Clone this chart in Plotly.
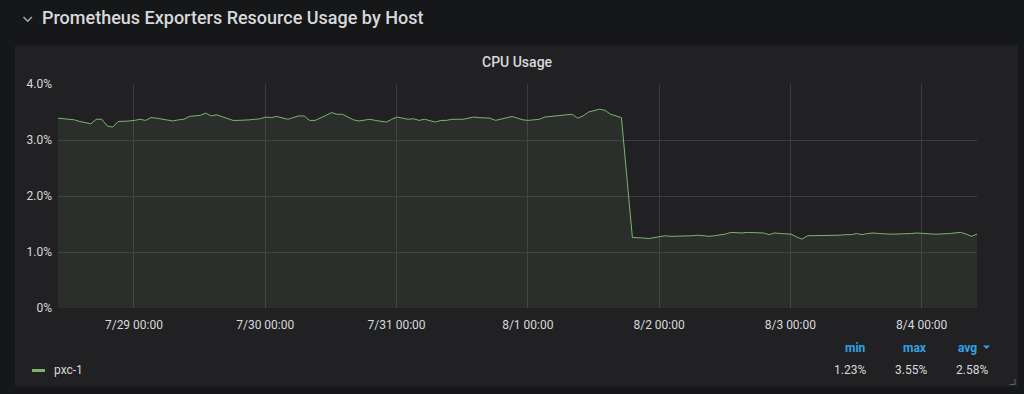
import pandas as pd
import plotly.graph_objects as go

# ---------------- data ----------------
start_time = "2019-07-28 10:07"
step = "h"
cpu_pxc1 = [
    3.39, 3.38, 3.38, 3.36, 3.33, 3.31, 3.29, 3.37, 3.37, 3.25,
    3.23, 3.33, 3.33, 3.34, 3.35, 3.37, 3.35, 3.40, 3.39, 3.37,
    3.35, 3.34, 3.36, 3.37, 3.42, 3.43, 3.44, 3.48, 3.43, 3.45,
    3.42, 3.38, 3.35, 3.35, 3.35, 3.36, 3.37, 3.38, 3.41, 3.40,
    3.42, 3.40, 3.37, 3.40, 3.43, 3.43, 3.35, 3.35, 3.39, 3.44,
    3.49, 3.46, 3.46, 3.41, 3.36, 3.34, 3.35, 3.37, 3.35, 3.33,
    3.32, 3.37, 3.41, 3.39, 3.37, 3.38, 3.35, 3.37, 3.35, 3.32,
    3.35, 3.35, 3.37, 3.37, 3.37, 3.39, 3.41, 3.40, 3.40, 3.39,
    3.35, 3.37, 3.40, 3.42, 3.39, 3.36, 3.35, 3.36, 3.37, 3.41,
    3.42, 3.43, 3.44, 3.46, 3.46, 3.39, 3.43, 3.50, 3.53, 3.55,
    3.53, 3.46, 3.43, 3.40, None, 1.26, 1.26, 1.25, 1.24, 1.26,
    1.28, 1.29, 1.28, 1.28, 1.29, 1.29, 1.29, 1.30, 1.29, 1.28,
    1.29, 1.30, 1.32, 1.35, 1.34, 1.34, 1.35, 1.35, 1.34, 1.34,
    1.31, 1.34, 1.33, 1.33, 1.32, 1.27, 1.23, 1.29, 1.29, 1.29,
    1.29, 1.30, 1.30, 1.30, 1.31, 1.31, 1.33, 1.31, 1.33, 1.34,
    1.33, 1.32, 1.32, 1.32, 1.32, 1.33, 1.33, 1.34, 1.33, 1.32,
    1.32, 1.32, 1.32, 1.33, 1.34, 1.35, 1.32, 1.28, 1.32,
]
series_name = "pxc-1"
y_ticks = [0, 1, 2, 3, 4]
y_tick_labels = ["0%", "1.0%", "2.0%", "3.0%", "4.0%"]
x_tick_days = ["2019-07-29", "2019-07-30", "2019-07-31", "2019-08-01",
               "2019-08-02", "2019-08-03", "2019-08-04"]
legend_headers = ["min", "max", "avg"]
legend_values = ["1.23%", "3.55%", "2.58%"]
panel_title = "CPU Usage"
row_title = "Prometheus Exporters Resource Usage by Host"

times = pd.date_range(start_time, periods=len(cpu_pxc1), freq=step)

# ---------------- style ----------------
W, H = 1024, 394
L, R, T, B = 58, 977, 84, 308
PAGE_BG = "#161719"
PANEL_BG = "#212124"
GRID = "#3c3c3f"
TEXT = "#d8d9da"
BLUE = "#33a2e5"
GREEN = "#7eb26d"
FONT = "Roboto"


def PX(x):
    return (x - L) / (R - L)


def PY(y):
    return (B - y) / (B - T)


fig = go.Figure()
fig.add_trace(go.Scatter(
    x=times, y=cpu_pxc1, mode="lines", name=series_name,
    line=dict(color=GREEN, width=1), fill="tozeroy",
    fillcolor="rgba(126,178,109,0.10)", connectgaps=True,
    hoverinfo="skip", showlegend=False,
))

shapes = [
    dict(type="rect", xref="paper", yref="paper", layer="below",
         x0=PX(15), x1=PX(1018), y0=PY(45.5), y1=PY(386.5),
         fillcolor=PANEL_BG, line=dict(width=0)),
    # row chevron
    dict(type="path", xref="paper", yref="paper",
         path=f"M {PX(23.5)},{PY(17)} L {PX(27.7)},{PY(21.2)} L {PX(31.9)},{PY(17)}",
         line=dict(color="#9fa7b3", width=1.6)),
    # legend colour swatch
    dict(type="rect", xref="paper", yref="paper",
         x0=PX(32), x1=PX(45), y0=PY(372), y1=PY(369),
         fillcolor=GREEN, line=dict(width=0)),
    # sort triangle
    dict(type="path", xref="paper", yref="paper",
         path=f"M {PX(983)},{PY(345.5)} L {PX(990)},{PY(345.5)} L {PX(986.5)},{PY(349)} Z",
         fillcolor=BLUE, line=dict(width=0)),
    # resize handle
    dict(type="path", xref="paper", yref="paper",
         path=f"M {PX(1015)},{PY(379)} L {PX(1015)},{PY(384.5)} L {PX(1009.5)},{PY(384.5)}",
         line=dict(color="#5a5a5e", width=1.2)),
]

annotations = [
    dict(text=row_title, x=PX(40), y=PY(17), xanchor="left", yanchor="middle",
         font=dict(family=FONT, size=18, color=TEXT, weight=500)),
    dict(text=panel_title, x=PX(517), y=PY(62), xanchor="center", yanchor="middle",
         font=dict(family=FONT, size=14, color=TEXT, weight=500)),
    dict(text=series_name, x=PX(52), y=PY(369.5), xanchor="left", yanchor="middle",
         font=dict(family=FONT, size=12, color=TEXT)),
]
header_right = [868, 929, 979]
value_right = [868, 929, 990]
for hd, xr in zip(legend_headers, header_right):
    annotations.append(dict(text=hd, x=PX(xr), y=PY(347.5), xanchor="right",
                            yanchor="middle",
                            font=dict(family=FONT, size=12, color=BLUE, weight=700)))
for vv, xr in zip(legend_values, value_right):
    annotations.append(dict(text=vv, x=PX(xr), y=PY(369.5), xanchor="right",
                            yanchor="middle",
                            font=dict(family=FONT, size=12, color=TEXT)))
for a in annotations:
    a.update(xref="paper", yref="paper", showarrow=False)

fig.update_layout(
    width=W, height=H,
    margin=dict(l=L, r=W - R, t=T, b=H - B, pad=0),
    paper_bgcolor=PAGE_BG, plot_bgcolor=PANEL_BG,
    font=dict(family=FONT, size=12, color=TEXT),
    shapes=shapes, annotations=annotations,
    showlegend=False,
)
fig.update_xaxes(
    type="date", range=[times[0], times[-1]],
    tickvals=pd.to_datetime(x_tick_days), tickformat="%-m/%-d %H:%M",
    showgrid=True, gridcolor=GRID, gridwidth=1,
    zeroline=False, showline=False, ticks="", ticklabelstandoff=8,
    tickfont=dict(family=FONT, size=12, color=TEXT), fixedrange=True,
)
fig.update_yaxes(
    range=[0, 4], tickvals=y_ticks, ticktext=y_tick_labels,
    showgrid=True, gridcolor=GRID, gridwidth=1,
    zeroline=False, showline=False, ticks="", ticklabelstandoff=5,
    tickfont=dict(family=FONT, size=12, color=TEXT), fixedrange=True,
)

fig.write_html("out.html", config={"displayModeBar": False})
